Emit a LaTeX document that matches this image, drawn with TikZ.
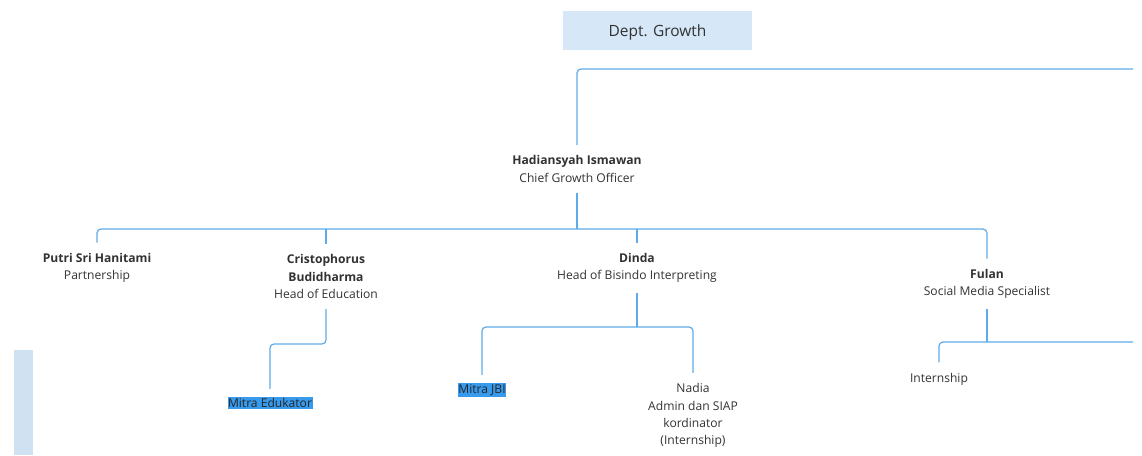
\documentclass[tikz,border=0pt]{standalone}
\usepackage{fontspec}
\setmainfont{Open Sans}
\definecolor{linec}{RGB}{95,170,232}
\definecolor{deptc}{RGB}{214,232,248}
\definecolor{hlc}{RGB}{56,154,236}
\definecolor{stripc}{RGB}{208,226,242}
\definecolor{txt}{RGB}{50,50,50}
\begin{document}
\begin{tikzpicture}[x=1pt,y=-1pt,
  conn/.style={draw=linec,line width=1.2pt,rounded corners=4pt},
  person/.style={align=center,font=\fontsize{12.1}{17.3}\selectfont,text=txt,inner xsep=2pt,inner ysep=10.5pt},
  hl/.style={fill=hlc,font=\fontsize{12.1}{17.3}\selectfont,text=black!85,inner xsep=0.5pt,inner ysep=1.5pt,outer ysep=8pt}]
\useasboundingbox (0,0) rectangle (1142,455);
\fill[stripc] (14,350) rectangle (33,455);
\node[fill=deptc,minimum width=189pt,minimum height=39pt,inner sep=0pt,text height=13pt,text depth=2pt,font=\fontsize{15.5}{18}\selectfont,text=txt] (dept) at (657.5,30.5) {Dept. Growth};
\coordinate (topright) at (1133,69);
\node[person] (had) at (577,169) {\textbf{Hadiansyah Ismawan}\\Chief Growth Officer};
\node[person] (putri) at (97,268) {\textbf{Putri Sri Hanitami}\\Partnership};
\node[person] (cris) at (326,276.5) {\textbf{Cristophorus}\\\textbf{Budidharma}\\Head of Education};
\node[person] (dinda) at (637,268) {\textbf{Dinda}\\Head of Bisindo Interpreting};
\node[person] (fulan) at (987,284) {\textbf{Fulan}\\Social Media Specialist};
\node[hl] (medu) at (270,403) {Mitra Edukator};
\node[hl] (jbi) at (482,390) {Mitra JBI};
\node[person] (nadia) at (693,415.5) {Nadia\\Admin dan SIAP\\kordinator\\(Internship)};
\node[person] (intern) at (939,379) {Internship};
\coordinate (bus1) at (577,229);
\coordinate (rightB) at (1133,342);
\draw[conn] (topright) -| (had);
\draw[conn] (had) -- (bus1);
\draw[conn] (putri) |- (bus1) -| (fulan);
\draw[conn] (cris |- bus1) -- (cris);
\draw[conn] (dinda |- bus1) -- (dinda);
\draw[conn] (cris) -- (cris |- 0,344) -| (medu);
\draw[conn] (dinda) -- (dinda |- 0,327);
\draw[conn] (jbi) |- (dinda |- 0,327) -| (nadia);
\draw[conn] (fulan) -- (fulan |- rightB);
\draw[conn] (intern) |- (fulan |- rightB) -- (rightB);
\end{tikzpicture}
\end{document}
